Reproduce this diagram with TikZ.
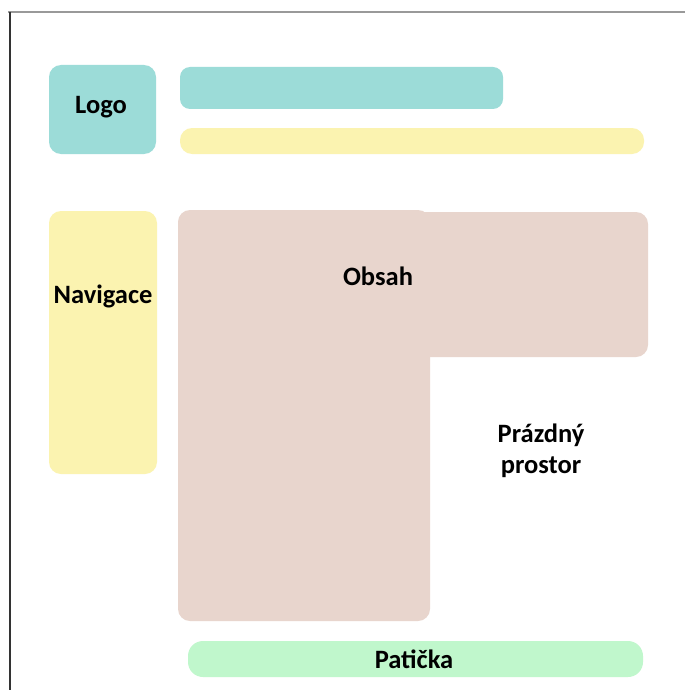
\documentclass[tikz,border=0pt]{standalone}
\usepackage{fontspec}
\setmainfont{Carlito}
\definecolor{tealbox}{HTML}{9CDCD8}
\definecolor{yellowbox}{HTML}{FBF3B0}
\definecolor{obsahbox}{HTML}{E8D5CD}
\definecolor{greenbox}{HTML}{C0F7CC}
\begin{document}
\begin{tikzpicture}[x=1pt,y=-1pt,
  blk/.style={rounded corners=12pt},
  lbl/.style={font=\fontsize{26.5}{31}\selectfont\bfseries, align=center}]
\useasboundingbox[fill=white] (0,0) rectangle (685,690);
% frame lines
\draw[color=black!40, line width=1.5pt] (8,12) -- (685,12);
\draw[color=black!80, line width=1.5pt] (10,12) -- (10,690);
% logo
\fill[tealbox, blk] (49,65) rectangle (156,154);
\node[lbl] (logo) at (101,107) {Logo};
% header bars
\fill[tealbox, rounded corners=10pt] (180,67) rectangle (503,109);
\fill[yellowbox, rounded corners=12pt] (180,128) rectangle (644,154);
% navigation
\fill[yellowbox, blk] (49,211) rectangle (157,474);
\node[lbl] (nav) at (103,296) {Navigace};
% content L-shape
\fill[obsahbox, blk] (178,210) rectangle (430,621);
\fill[obsahbox, blk] (178,212) rectangle (648,357);
\node[lbl] (obsah) at (378,276) {Obsah};
% empty space
\node[lbl] (empty) at (541,451) {Prázdný\\prostor};
% footer
\fill[greenbox, rounded corners=15pt] (188,641) rectangle (643,677);
\node[lbl] (footer) at (414,659) {Patička};
\end{tikzpicture}
\end{document}
